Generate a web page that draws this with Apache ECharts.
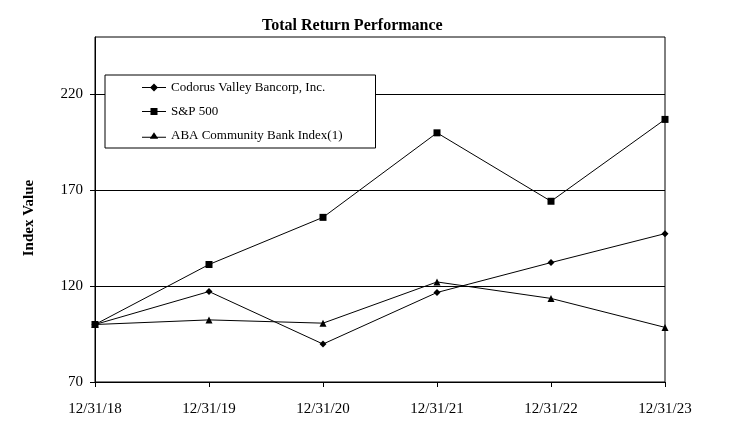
<!DOCTYPE html>
<html>
<head>
<meta charset="utf-8">
<script src="https://cdn.jsdelivr.net/npm/echarts@6/dist/echarts.min.js"></script>
<style>
html,body{margin:0;padding:0;background:#fff;}
#chart{width:730px;height:427px;}
</style>
</head>
<body>
<div id="chart"></div>
<script>
var categories = ['12/31/18', '12/31/19', '12/31/20', '12/31/21', '12/31/22', '12/31/23'];
var codorus = [100, 117.2, 89.8, 116.7, 132.3, 147.4];
var sp500 = [100, 131.3, 155.9, 200.0, 164.3, 207.0];
var aba = [100, 102.4, 100.7, 122.2, 113.6, 98.5];
var yTicks = [70, 120, 170, 220];
var seriesNames = ['Codorus Valley Bancorp, Inc.', 'S&P 500', 'ABA Community Bank Index(1)'];

var FONT = '"Liberation Serif", "Times New Roman", serif';
var chart = echarts.init(document.getElementById('chart'), null, {renderer: 'canvas'});

function mkSeries(name, data, symbol, size) {
  return {
    name: name, type: 'line', data: data,
    symbol: symbol, symbolSize: size, showSymbol: true,
    lineStyle: {color: '#000', width: 1},
    itemStyle: {color: '#000'},
    emphasis: {disabled: true},
    animation: false
  };
}

var legendIcons = [
  'path://M0,7 L8.5,7 L12,3.5 L15.5,7 L24,7 L24,8 L15.5,8 L12,11.5 L8.5,8 L0,8 Z',
  'path://M0,7 L8.5,7 L8.5,4 L15.5,4 L15.5,7 L24,7 L24,8 L15.5,8 L15.5,11 L8.5,11 L8.5,8 L0,8 Z',
  'path://M0,8 L9,8 L12,3.5 L15,8 L24,8 L24,9 L15.7,9 L16,10 L8,10 L8.3,9 L0,9 Z'
];

chart.setOption({
  backgroundColor: '#fff',
  animation: false,
  title: {
    text: 'Total Return Performance',
    left: 257, top: 13,
    textStyle: {fontFamily: FONT, fontSize: 16, fontWeight: 'bold', color: '#000'}
  },
  legend: {
    orient: 'vertical',
    left: 105, top: 75,
    data: seriesNames.map(function (n, i) { return {name: n, icon: legendIcons[i]}; }),
    backgroundColor: '#fff',
    borderColor: '#000', borderWidth: 1, borderRadius: 0,
    padding: [6, 33, 6, 37],
    itemGap: 11,
    itemWidth: 24, itemHeight: 14,
    textStyle: {fontFamily: FONT, fontSize: 13, color: '#000'},
    selectedMode: false
  },
  grid: {
    left: 95, right: 65, top: 37, bottom: 45,
    show: true, borderColor: '#000', borderWidth: 1, backgroundColor: 'transparent'
  },
  xAxis: {
    type: 'category', data: categories, boundaryGap: false,
    axisLine: {lineStyle: {color: '#000', width: 1}},
    axisTick: {show: true, length: 5, inside: false, lineStyle: {color: '#000'}},
    axisLabel: {fontFamily: FONT, fontSize: 15, color: '#000', margin: 20},
    splitLine: {show: false}
  },
  yAxis: {
    type: 'value', min: 70, max: 250, interval: 50,
    name: 'Index Value', nameLocation: 'middle', nameGap: 58,
    nameTextStyle: {fontFamily: FONT, fontSize: 15, fontWeight: 'bold', color: '#000', padding: [0, 17, 0, 0]},
    axisLine: {show: true, lineStyle: {color: '#000', width: 1}},
    axisTick: {show: true, length: 5, customValues: yTicks, lineStyle: {color: '#000'}},
    axisLabel: {
      fontFamily: FONT, fontSize: 15, color: '#000', margin: 12,
      customValues: yTicks
    },
    splitLine: {show: true, lineStyle: {color: '#000', width: 1}}
  },
  series: [
    mkSeries(seriesNames[0], codorus, 'diamond', 7),
    mkSeries(seriesNames[1], sp500, 'rect', 7),
    mkSeries(seriesNames[2], aba, 'triangle', 7)
  ]
});
</script>
</body>
</html>
